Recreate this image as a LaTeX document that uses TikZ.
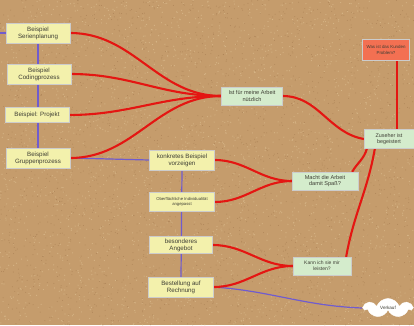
\documentclass[tikz,border=0pt]{standalone}
\usepackage{fontspec}
\setsansfont{Liberation Sans}
\usetikzlibrary{shadows,shapes.symbols}
\definecolor{cork}{RGB}{197,156,108}
\definecolor{corkL}{RGB}{218,186,140}
\definecolor{corkD}{RGB}{172,130,86}
\definecolor{postit}{RGB}{243,241,172}
\definecolor{mint}{RGB}{212,236,204}
\definecolor{salmon}{RGB}{243,112,82}
\definecolor{redline}{RGB}{228,22,18}
\definecolor{purp}{RGB}{112,92,206}
\definecolor{ink}{RGB}{62,62,52}
\pgfdeclarelayer{bg}
\pgfdeclarelayer{lines}
\pgfsetlayers{bg,lines,main}
\begin{document}
\begin{tikzpicture}[x=1pt,y=-1pt,
  card/.style={draw=black!20, line width=0.3pt, text=ink, align=center,
    inner sep=1pt, font=\sffamily\fontsize{6.2}{7}\selectfont,
    drop shadow={shadow xshift=0.8pt,shadow yshift=-0.9pt,opacity=0.3}},
  yellowcard/.style={card, fill=postit, minimum width=64pt, minimum height=20pt},
  greencard/.style={card, fill=mint, minimum height=18pt},
  redcard/.style={card, fill=salmon, minimum width=47pt, minimum height=21pt,
    font=\sffamily\fontsize{4.4}{5.2}\selectfont},
  link/.style={redline, line width=2.1pt},
  chain/.style={purp, line width=1.2pt}
]
\useasboundingbox (0,0) rectangle (414,325);
\begin{pgfonlayer}{bg}
  \clip (0,0) rectangle (414,325);
  \fill[cork] (0,0) rectangle (414,325);
  \pgfmathsetseed{7}
  \foreach \i in {1,...,2600}{
    \pgfmathsetmacro\xx{rnd*414}\pgfmathsetmacro\yy{rnd*325}
    \fill[corkL, opacity=0.8] (\xx,\yy) circle (0.6pt);
  }
  \foreach \i in {1,...,2200}{
    \pgfmathsetmacro\xx{rnd*414}\pgfmathsetmacro\yy{rnd*325}
    \fill[corkD, opacity=0.8] (\xx,\yy) circle (0.5pt);
  }
\end{pgfonlayer}

% left column
\node[yellowcard] (s1) at (38,33) {Beispiel\\Serienplanung};
\node[yellowcard] (s2) at (39,74) {Beispiel\\Codingprozess};
\node[yellowcard, minimum height=15pt] (s3) at (37,115) {Beispiel: Projekt};
\node[yellowcard] (s4) at (38,158) {Beispiel\\Gruppenprozess};
% middle column
\node[yellowcard, minimum width=65pt] (k1) at (182,160) {konkretes Beispiel\\vorzeigen};
\node[yellowcard, minimum width=65pt, minimum height=19pt,
  font=\sffamily\fontsize{4.2}{5}\selectfont] (k2) at (182,202) {Oberflächliche Individualität\\angepasst};
\node[yellowcard, minimum width=63pt, minimum height=17pt] (k3) at (181,245) {besonderes\\Angebot};
\node[yellowcard, minimum width=65pt] (k4) at (181,287) {Bestellung auf\\Rechnung};
% questions
\node[greencard, minimum width=61pt, font=\sffamily\fontsize{5.6}{6.6}\selectfont] (ist) at (252,96) {Ist für meine Arbeit\\nützlich};
\node[greencard, minimum width=66pt, font=\sffamily\fontsize{5.6}{6.6}\selectfont] (macht) at (325,181) {Macht die Arbeit\\damit Spaß?};
\node[greencard, minimum width=58pt, font=\sffamily\fontsize{5}{6}\selectfont] (kann) at (322,266) {Kann ich sie mir\\leisten?};
\node[greencard, minimum width=50pt, minimum height=19pt,
  font=\sffamily\fontsize{5.4}{6.4}\selectfont] (zus) at (389,139) {Zuseher ist\\begeistert};
\node[redcard] (prob) at (386,50) {Was ist das Kunden\\Problem?};
\node[cloud, cloud puffs=7, cloud puff arc=140, aspect=2.8, fill=white, draw=white, inner sep=0pt,
  minimum width=48pt, minimum height=19pt, text=ink,
  font=\sffamily\fontsize{4.6}{5}\selectfont] (cl) at (388,308) {Verkauf};
\coordinate (stub) at (0,33);

\begin{pgfonlayer}{lines}
  % purple chains
  \draw[chain] (stub) -- (s1.west);
  \draw[chain] (s1.south) -- (s4.north);
  \draw[chain] (s4.east) -- (k1.west);
  \draw[chain] (k1.south) -- (k4.north);
  \draw[chain] (k4.east) to[out=-4,in=178] (cl.west);
  % red links
  \foreach \n in {s1,s2,s3,s4}
    \draw[link] (\n.east) to[out=0,in=180] (ist.west);
  \draw[link] (k1.east) to[out=0,in=180] (macht.west);
  \draw[link] (k2.east) to[out=0,in=180] (macht.west);
  \draw[link] (k3.east) to[out=0,in=180] (kann.west);
  \draw[link] (k4.east) to[out=0,in=180] (kann.west);
  \draw[link] (ist.east) to[out=0,in=170] (zus.west);
  \draw[link] ([xshift=-6pt]macht.north east) to[out=60,in=-105] ([xshift=3pt]zus.south west);
  \draw[link] ([xshift=-5pt]kann.north east) to[out=80,in=-100] ([xshift=11pt]zus.south west);
  \draw[link] ([xshift=11pt]prob.south) -- ([xshift=11pt]prob.south |- zus.north);
\end{pgfonlayer}
\end{tikzpicture}
\end{document}
